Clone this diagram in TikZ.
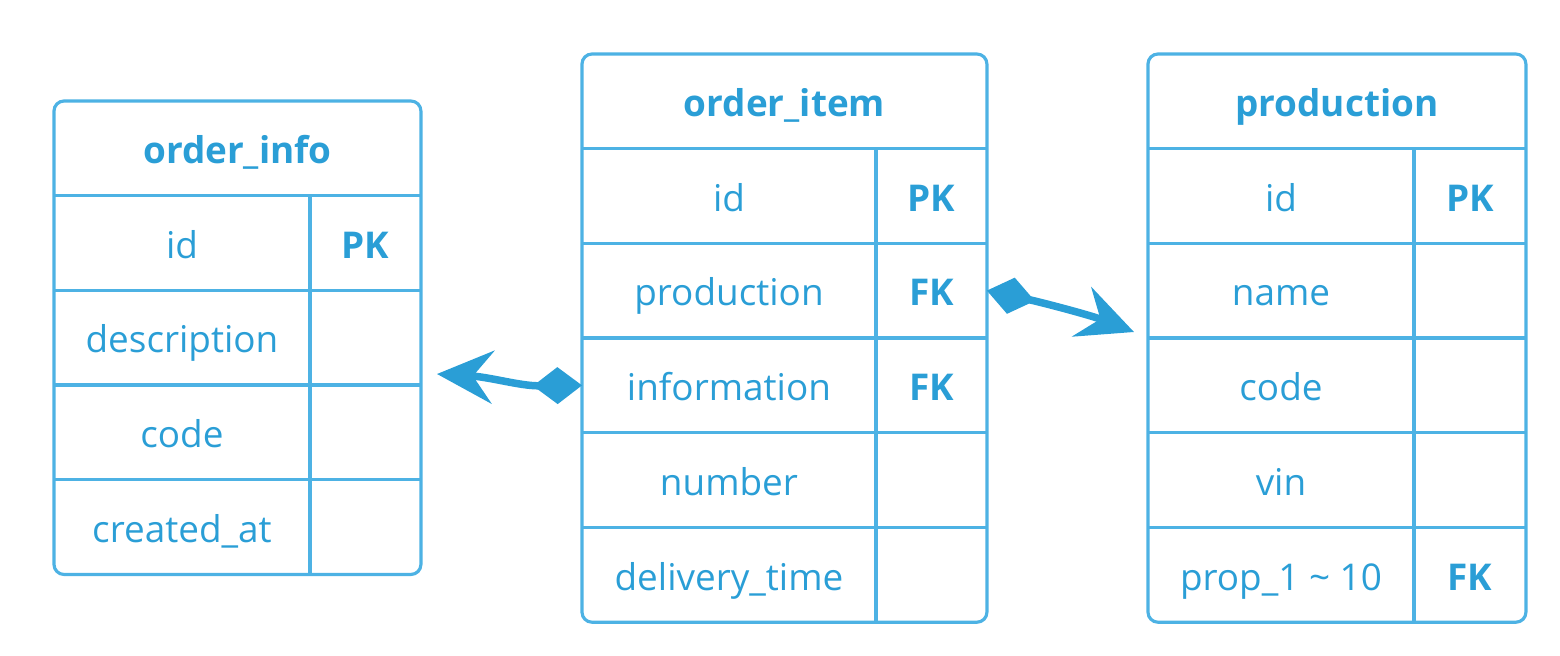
\documentclass[tikz,border=0pt]{standalone}
\usepackage{fontspec}
\setmainfont{Open Sans}
\usetikzlibrary{arrows.meta, positioning, fit, calc}
\definecolor{gridblue}{RGB}{77,178,228}
\definecolor{inkblue}{RGB}{42,158,214}

\begin{document}
\begin{tikzpicture}[
    x=0.02cm, y=-0.02cm,
    every node/.style={inner sep=0, outer sep=0, text=inkblue, font=\fontsize{21}{25}\selectfont},
    tablehead/.style={minimum height=1.89cm, text height=17.5pt, text depth=0pt, font=\fontsize{21}{25}\selectfont\bfseries},
    namecell/.style={minimum height=1.895cm, text height=17.5pt, text depth=0pt},
    keycell/.style={minimum height=1.895cm, text height=17.5pt, text depth=0pt, font=\fontsize{21}{25}\selectfont\bfseries},
    grid/.style={draw=gridblue, line width=1.8pt},
    frame/.style={grid, rounded corners=0.2cm, fit=#1},
    link/.style={draw=inkblue, fill=inkblue, line width=0.15cm}
]
\useasboundingbox (0,0) rectangle (1560,656);

% order_info table
\node[tablehead, minimum width=7.34cm, anchor=north west] (info) at (54,101) {order\_info};
\foreach \f/\k [count=\i] in {id/PK, description/{}, code/{}, created\_at/{}} {
    \node[namecell, minimum width=5.12cm, anchor=north west] (info-\i) at ($(info.south west)+(0,{(\i-1)*94.75})$) {\f};
    \node[keycell, minimum width=2.22cm, right=0 of info-\i] (info-k\i) {\k};
    \draw[grid] (info-\i.north west) -- (info-k\i.north east);
}
\draw[grid] (info-1.north east) -- (info-4.south east);
\node[frame=(info)(info-k4)] (infoBox) {};

% order_item table
\node[tablehead, minimum width=8.1cm, anchor=north west] (item) at (582,54) {order\_item};
\foreach \f/\k [count=\i] in {id/PK, production/FK, information/FK, number/{}, delivery\_time/{}} {
    \node[namecell, minimum width=5.88cm, anchor=north west] (item-\i) at ($(item.south west)+(0,{(\i-1)*94.75})$) {\f};
    \node[keycell, minimum width=2.22cm, right=0 of item-\i] (item-k\i) {\k};
    \draw[grid] (item-\i.north west) -- (item-k\i.north east);
}
\draw[grid] (item-1.north east) -- (item-5.south east);
\node[frame=(item)(item-k5)] (itemBox) {};

% production table
\node[tablehead, minimum width=7.56cm, anchor=north west] (prod) at (1148,54) {production};
\foreach \f/\k [count=\i] in {id/PK, name/{}, code/{}, vin/{}, prop\_1 \textasciitilde{} 10/FK} {
    \node[namecell, minimum width=5.32cm, anchor=north west] (prod-\i) at ($(prod.south west)+(0,{(\i-1)*94.75})$) {\f};
    \node[keycell, minimum width=2.24cm, right=0 of prod-\i] (prod-k\i) {\k};
    \draw[grid] (prod-\i.north west) -- (prod-k\i.north east);
}
\draw[grid] (prod-1.north east) -- (prod-5.south east);
\node[frame=(prod)(prod-k5)] (prodBox) {};

% Relations
\coordinate (infoTip) at (437,374);
\coordinate (prodTip) at (1134,332);
\draw[link, {Diamond[length=0.98cm, width=0.74cm]}-{Stealth[length=1.12cm, width=1.06cm, inset=0.4cm]}]
    (item-3.west) .. controls (520,386) and (490,377) .. (infoTip);
\draw[link, {Diamond[length=0.98cm, width=0.74cm]}-{Stealth[length=1.12cm, width=1.06cm, inset=0.4cm]}]
    (item-k2.east) .. controls (1040,302) and (1090,315) .. (prodTip);

\end{tikzpicture}
\end{document}
